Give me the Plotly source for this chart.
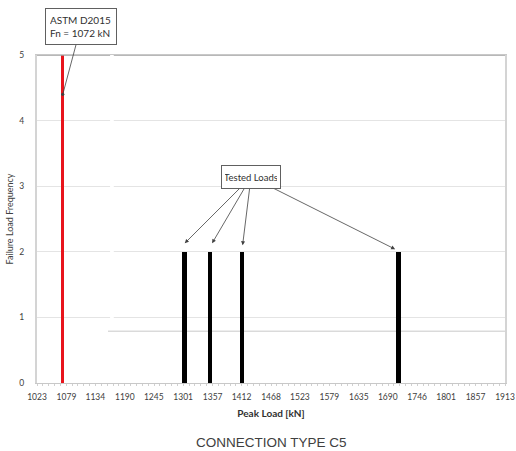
import plotly.graph_objects as go

# ---- data ----
design_load = [1072]
design_freq = [5]
tested_loads = [1304, 1352, 1413, 1711]
tested_freq = [2, 2, 2, 2]
tick_values = [1023, 1079, 1134, 1190, 1245, 1301, 1357, 1412, 1468, 1523,
               1579, 1635, 1690, 1746, 1801, 1857, 1913]
tick_labels = [str(v) for v in tick_values]

fig = go.Figure()
fig.add_trace(go.Bar(x=design_load, y=design_freq, width=5.5,
                     marker=dict(color="#e8141c", line=dict(width=0)),
                     showlegend=False))
fig.add_trace(go.Bar(x=tested_loads, y=tested_freq, width=9,
                     marker=dict(color="#000000", line=dict(width=0)),
                     showlegend=False))

FONT = "Lato, Liberation Sans, sans-serif"
small = dict(family=FONT, size=8.5, color="#404040")

fig.update_layout(
    width=516, height=451,
    margin=dict(l=37, r=11, t=55, b=68, autoexpand=False),
    paper_bgcolor="white", plot_bgcolor="white",
    bargap=0,
    xaxis=dict(range=[1023, 1913], tickvals=tick_values, ticktext=tick_labels,
               tickfont=small, showgrid=False, zeroline=False,
               showline=True, linecolor="#c8c8c8", linewidth=1, mirror=True,
               ticks="", ticklen=0, ticklabelstandoff=6, ticklabeloverflow="allow",
               minor=dict(ticks="outside", ticklen=2, tickcolor="#d0d0d0",
                          tick0=1023, dtick=11.125, showgrid=False),
               title=dict(text="<b>Peak Load [kN]</b>",
                          font=dict(family=FONT, size=10, color="#303030"),
                          standoff=8)),
    yaxis=dict(range=[0, 5], dtick=1, tickfont=small,
               showgrid=True, gridcolor="#e4e4e4", gridwidth=1, zeroline=False,
               showline=True, linecolor="#d4d4d4", linewidth=2, mirror=True,
               ticks="", ticklabelstandoff=9,
               title=dict(text="Failure Load Frequency",
                          font=dict(family=FONT, size=9, color="#404040"),
                          standoff=4)),
)

# top border darker
fig.add_shape(type="line", xref="paper", yref="y", x0=0, x1=1, y0=5, y1=5,
              line=dict(color="#a0a0a0", width=1.5), layer="above")
# gap in gridlines and stray line (artifacts of the original)
fig.add_shape(type="rect", xref="x", yref="y", x0=1162, x1=1169, y0=0.97, y1=5.1,
              fillcolor="white", line=dict(width=0), layer="above")
fig.add_shape(type="line", xref="x", yref="y", x0=1158, x1=1913, y0=0.79, y1=0.79,
              line=dict(color="#c8c8c8", width=1), layer="below")

# Tested loads arrows
tail_x, tail_y = 1430, 3.14
tips = [(1304, 2.13), (1356, 2.13), (1414, 2.10), (1704, 2.04)]
for tx, ty in tips:
    fig.add_annotation(x=tx, y=ty, ax=tail_x, ay=tail_y, axref="x", ayref="y",
                       text="", showarrow=True, arrowhead=2, arrowsize=1,
                       arrowwidth=0.8, arrowcolor="#404040")
fig.add_annotation(x=tail_x, y=tail_y, text="Tested Loads", showarrow=False,
                   font=dict(family=FONT, size=9.5, color="#303030"),
                   bgcolor="white", bordercolor="#606060", borderwidth=1, borderpad=3,
                   width=52, height=16)

# ASTM annotation
fig.add_annotation(x=1072, y=4.4, ax=18, ay=-67.5,
                   text="ASTM D2015<br>Fn = 1072 kN", showarrow=True,
                   arrowhead=6, arrowsize=1, arrowwidth=0.8, arrowcolor="#404040",
                   align="left", width=62, height=27,
                   font=dict(family=FONT, size=10, color="#303030"),
                   bgcolor="white", bordercolor="#606060", borderwidth=1, borderpad=4)

# Caption
fig.add_annotation(xref="paper", yref="paper", x=0.5, y=-0.18, yanchor="middle",
                   text="CONNECTION TYPE C5", showarrow=False,
                   font=dict(family="Liberation Sans, Arial, sans-serif", size=13.5, color="#404040"))

fig.write_html("out.html", config={"displayModeBar": False},
               post_script="document.body.style.margin='0';")
